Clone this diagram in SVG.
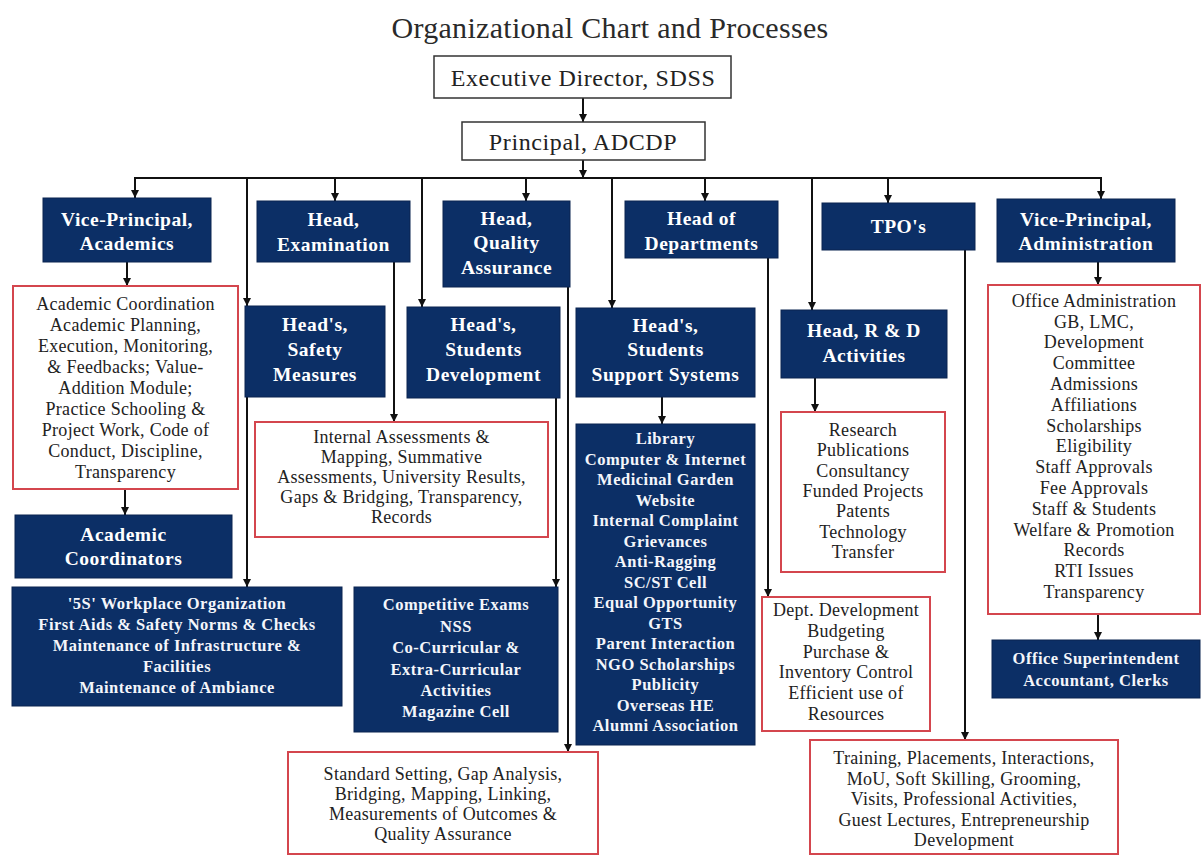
<svg xmlns="http://www.w3.org/2000/svg" width="1202" height="856" viewBox="0 0 1202 856">
<style>
  .bg{fill:#ffffff}
  .top{fill:#ffffff;stroke:#333333;stroke-width:1.5}
  .navy{fill:#0c2f66;stroke:#0a2550;stroke-width:1}
  .proc{fill:#ffffff;stroke:#d4464e;stroke-width:2}
  .title{font-family:"Liberation Serif",serif;font-size:30px;fill:#2a2a2a;text-anchor:middle;letter-spacing:0.3px}
  .ttop{font-family:"Liberation Serif",serif;font-size:24px;fill:#222222;text-anchor:middle;letter-spacing:0.6px}
  .th{font-family:"Liberation Serif",serif;font-size:19.5px;font-weight:bold;fill:#ffffff;text-anchor:middle;letter-spacing:0.5px}
  .tl{font-family:"Liberation Serif",serif;font-size:16.5px;font-weight:bold;fill:#f4f6fb;text-anchor:middle;letter-spacing:0.5px}
  .tp{font-family:"Liberation Serif",serif;font-size:18px;fill:#222222;text-anchor:middle;letter-spacing:0.3px}
  .conn line{stroke:#111111;stroke-width:2}
</style>
<defs>
  <marker id="ar" viewBox="0 0 10 10" refX="10" refY="5" markerWidth="4" markerHeight="4" orient="auto" markerUnits="strokeWidth">
    <path d="M0,0 L10,5 L0,10 z" fill="#111111"/>
  </marker>
</defs>
<rect class="bg" x="0" y="0" width="1202" height="856"/>
<text class="title" x="610" y="38">Organizational Chart and Processes</text>

<g id="connectors" class="conn">
  <line x1="583" y1="98" x2="583" y2="122" marker-end="url(#ar)"/>
  <line x1="583" y1="160" x2="583" y2="178" marker-end="url(#ar)"/>
  <line x1="134" y1="178" x2="1102" y2="178"/>
  <line x1="135" y1="178" x2="135" y2="198" marker-end="url(#ar)"/>
  <line x1="247" y1="178" x2="247" y2="306" marker-end="url(#ar)"/>
  <line x1="247" y1="397" x2="247" y2="587" marker-end="url(#ar)"/>
  <line x1="335" y1="178" x2="335" y2="201" marker-end="url(#ar)"/>
  <line x1="422" y1="178" x2="422" y2="307" marker-end="url(#ar)"/>
  <line x1="526" y1="178" x2="526" y2="201" marker-end="url(#ar)"/>
  <line x1="612" y1="178" x2="612" y2="308" marker-end="url(#ar)"/>
  <line x1="705" y1="178" x2="705" y2="201" marker-end="url(#ar)"/>
  <line x1="812" y1="178" x2="812" y2="310" marker-end="url(#ar)"/>
  <line x1="888" y1="178" x2="888" y2="203" marker-end="url(#ar)"/>
  <line x1="1101" y1="178" x2="1101" y2="199" marker-end="url(#ar)"/>
  <line x1="127" y1="262" x2="127" y2="286" marker-end="url(#ar)"/>
  <line x1="125" y1="489" x2="125" y2="515" marker-end="url(#ar)"/>
  <line x1="394" y1="262" x2="394" y2="422" marker-end="url(#ar)"/>
  <line x1="568" y1="287" x2="568" y2="752" marker-end="url(#ar)"/>
  <line x1="556" y1="398" x2="556" y2="587" marker-end="url(#ar)"/>
  <line x1="662" y1="397" x2="662" y2="424" marker-end="url(#ar)"/>
  <line x1="768" y1="258" x2="768" y2="597" marker-end="url(#ar)"/>
  <line x1="815" y1="378" x2="815" y2="412" marker-end="url(#ar)"/>
  <line x1="965" y1="250" x2="965" y2="740" marker-end="url(#ar)"/>
  <line x1="1098" y1="262" x2="1098" y2="285" marker-end="url(#ar)"/>
  <line x1="1098" y1="614" x2="1098" y2="640" marker-end="url(#ar)"/>
</g>

<g id="exec">
  <rect class="top" x="434" y="56" width="297" height="42"/>
  <text class="ttop" x="583" y="86">Executive Director, SDSS</text>
</g>
<g id="principal">
  <rect class="top" x="462" y="122" width="243" height="38"/>
  <text class="ttop" x="583" y="150">Principal, ADCDP</text>
</g>

<g id="vp-academics">
  <rect class="navy" x="43" y="198" width="168" height="64"/>
  <text class="th" x="127" y="226">Vice-Principal,</text>
  <text class="th" x="127" y="250">Academics</text>
</g>
<g id="head-exam">
  <rect class="navy" x="257" y="201" width="153" height="61"/>
  <text class="th" x="333.5" y="226">Head,</text>
  <text class="th" x="333.5" y="251">Examination</text>
</g>
<g id="head-qa">
  <rect class="navy" x="443" y="201" width="127" height="86"/>
  <text class="th" x="506.5" y="225">Head,</text>
  <text class="th" x="506.5" y="249">Quality</text>
  <text class="th" x="506.5" y="274">Assurance</text>
</g>
<g id="hod">
  <rect class="navy" x="625" y="201" width="153" height="57"/>
  <text class="th" x="701.5" y="225">Head of</text>
  <text class="th" x="701.5" y="250">Departments</text>
</g>
<g id="tpo">
  <rect class="navy" x="822" y="203" width="153" height="47"/>
  <text class="th" x="898.5" y="233">TPO's</text>
</g>
<g id="vp-admin">
  <rect class="navy" x="997" y="199" width="178" height="63"/>
  <text class="th" x="1086" y="226">Vice-Principal,</text>
  <text class="th" x="1086" y="250">Administration</text>
</g>

<g id="academic-coordination">
  <rect class="proc" x="13" y="286" width="225" height="203"/>
  <text class="tp" x="125.5" y="310">Academic Coordination</text>
  <text class="tp" x="125.5" y="331">Academic Planning,</text>
  <text class="tp" x="125.5" y="352">Execution, Monitoring,</text>
  <text class="tp" x="125.5" y="373">&amp; Feedbacks; Value-</text>
  <text class="tp" x="125.5" y="394">Addition Module;</text>
  <text class="tp" x="125.5" y="415">Practice Schooling &amp;</text>
  <text class="tp" x="125.5" y="436">Project Work, Code of</text>
  <text class="tp" x="125.5" y="457">Conduct, Discipline,</text>
  <text class="tp" x="125.5" y="478">Transparency</text>
</g>
<g id="heads-safety">
  <rect class="navy" x="245" y="306" width="140" height="91"/>
  <text class="th" x="315" y="331">Head's,</text>
  <text class="th" x="315" y="356">Safety</text>
  <text class="th" x="315" y="381">Measures</text>
</g>
<g id="heads-students-dev">
  <rect class="navy" x="407" y="307" width="153" height="91"/>
  <text class="th" x="483.5" y="331">Head's,</text>
  <text class="th" x="483.5" y="356">Students</text>
  <text class="th" x="483.5" y="381">Development</text>
</g>
<g id="heads-sss">
  <rect class="navy" x="576" y="308" width="179" height="89"/>
  <text class="th" x="665.5" y="332">Head's,</text>
  <text class="th" x="665.5" y="356">Students</text>
  <text class="th" x="665.5" y="381">Support Systems</text>
</g>
<g id="head-rd">
  <rect class="navy" x="781" y="310" width="166" height="68"/>
  <text class="th" x="864" y="337">Head, R &amp; D</text>
  <text class="th" x="864" y="362">Activities</text>
</g>
<g id="office-admin">
  <rect class="proc" x="988" y="285" width="212" height="329"/>
  <text class="tp" x="1094" y="307">Office Administration</text>
  <text class="tp" x="1094" y="328">GB, LMC,</text>
  <text class="tp" x="1094" y="348">Development</text>
  <text class="tp" x="1094" y="369">Committee</text>
  <text class="tp" x="1094" y="390">Admissions</text>
  <text class="tp" x="1094" y="411">Affiliations</text>
  <text class="tp" x="1094" y="432">Scholarships</text>
  <text class="tp" x="1094" y="452">Eligibility</text>
  <text class="tp" x="1094" y="473">Staff Approvals</text>
  <text class="tp" x="1094" y="494">Fee Approvals</text>
  <text class="tp" x="1094" y="515">Staff &amp; Students</text>
  <text class="tp" x="1094" y="536">Welfare &amp; Promotion</text>
  <text class="tp" x="1094" y="556">Records</text>
  <text class="tp" x="1094" y="577">RTI Issues</text>
  <text class="tp" x="1094" y="598">Transparency</text>
</g>
<g id="internal-assessments">
  <rect class="proc" x="255" y="422" width="293" height="115"/>
  <text class="tp" x="401.5" y="443">Internal Assessments &amp;</text>
  <text class="tp" x="401.5" y="463">Mapping, Summative</text>
  <text class="tp" x="401.5" y="483">Assessments, University Results,</text>
  <text class="tp" x="401.5" y="503">Gaps &amp; Bridging, Transparency,</text>
  <text class="tp" x="401.5" y="523">Records</text>
</g>
<g id="sss-list">
  <rect class="navy" x="576" y="424" width="179" height="321"/>
  <text class="tl" x="665.5" y="444">Library</text>
  <text class="tl" x="665.5" y="464.5">Computer &amp; Internet</text>
  <text class="tl" x="665.5" y="485">Medicinal Garden</text>
  <text class="tl" x="665.5" y="505.5">Website</text>
  <text class="tl" x="665.5" y="526">Internal Complaint</text>
  <text class="tl" x="665.5" y="546.5">Grievances</text>
  <text class="tl" x="665.5" y="567">Anti-Ragging</text>
  <text class="tl" x="665.5" y="587.5">SC/ST Cell</text>
  <text class="tl" x="665.5" y="608">Equal Opportunity</text>
  <text class="tl" x="665.5" y="628.5">GTS</text>
  <text class="tl" x="665.5" y="649">Parent Interaction</text>
  <text class="tl" x="665.5" y="669.5">NGO Scholarships</text>
  <text class="tl" x="665.5" y="690">Publicity</text>
  <text class="tl" x="665.5" y="710.5">Overseas HE</text>
  <text class="tl" x="665.5" y="731">Alumni Association</text>
</g>
<g id="research">
  <rect class="proc" x="781" y="412" width="164" height="160"/>
  <text class="tp" x="863" y="436">Research</text>
  <text class="tp" x="863" y="456">Publications</text>
  <text class="tp" x="863" y="477">Consultancy</text>
  <text class="tp" x="863" y="497">Funded Projects</text>
  <text class="tp" x="863" y="517">Patents</text>
  <text class="tp" x="863" y="538">Technology</text>
  <text class="tp" x="863" y="558">Transfer</text>
</g>
<g id="academic-coordinators">
  <rect class="navy" x="15" y="515" width="217" height="63"/>
  <text class="th" x="123.5" y="541">Academic</text>
  <text class="th" x="123.5" y="565">Coordinators</text>
</g>
<g id="five-s">
  <rect class="navy" x="12" y="587" width="330" height="119"/>
  <text class="tl" x="177" y="609">'5S' Workplace Organization</text>
  <text class="tl" x="177" y="630">First Aids &amp; Safety Norms &amp; Checks</text>
  <text class="tl" x="177" y="651">Maintenance of Infrastructure &amp;</text>
  <text class="tl" x="177" y="672">Facilities</text>
  <text class="tl" x="177" y="693">Maintenance of Ambiance</text>
</g>
<g id="competitive">
  <rect class="navy" x="354" y="587" width="204" height="145"/>
  <text class="tl" x="456" y="610">Competitive Exams</text>
  <text class="tl" x="456" y="631.5">NSS</text>
  <text class="tl" x="456" y="653">Co-Curricular &amp;</text>
  <text class="tl" x="456" y="674.5">Extra-Curricular</text>
  <text class="tl" x="456" y="696">Activities</text>
  <text class="tl" x="456" y="717">Magazine Cell</text>
</g>
<g id="dept-dev">
  <rect class="proc" x="762" y="597" width="168" height="134"/>
  <text class="tp" x="846" y="616">Dept. Development</text>
  <text class="tp" x="846" y="637">Budgeting</text>
  <text class="tp" x="846" y="658">Purchase &amp;</text>
  <text class="tp" x="846" y="678">Inventory Control</text>
  <text class="tp" x="846" y="699">Efficient use of</text>
  <text class="tp" x="846" y="720">Resources</text>
</g>
<g id="office-supt">
  <rect class="navy" x="992" y="640" width="208" height="58"/>
  <text class="tl" x="1096" y="664">Office Superintendent</text>
  <text class="tl" x="1096" y="686">Accountant, Clerks</text>
</g>
<g id="standard-setting">
  <rect class="proc" x="288" y="752" width="310" height="102"/>
  <text class="tp" x="443" y="780">Standard Setting, Gap Analysis,</text>
  <text class="tp" x="443" y="800">Bridging, Mapping, Linking,</text>
  <text class="tp" x="443" y="820">Measurements of Outcomes &amp;</text>
  <text class="tp" x="443" y="840">Quality Assurance</text>
</g>
<g id="training">
  <rect class="proc" x="810" y="740" width="308" height="114"/>
  <text class="tp" x="964" y="764">Training, Placements, Interactions,</text>
  <text class="tp" x="964" y="784.5">MoU, Soft Skilling, Grooming,</text>
  <text class="tp" x="964" y="805">Visits, Professional Activities,</text>
  <text class="tp" x="964" y="825.5">Guest Lectures, Entrepreneurship</text>
  <text class="tp" x="964" y="846">Development</text>
</g>
</svg>
